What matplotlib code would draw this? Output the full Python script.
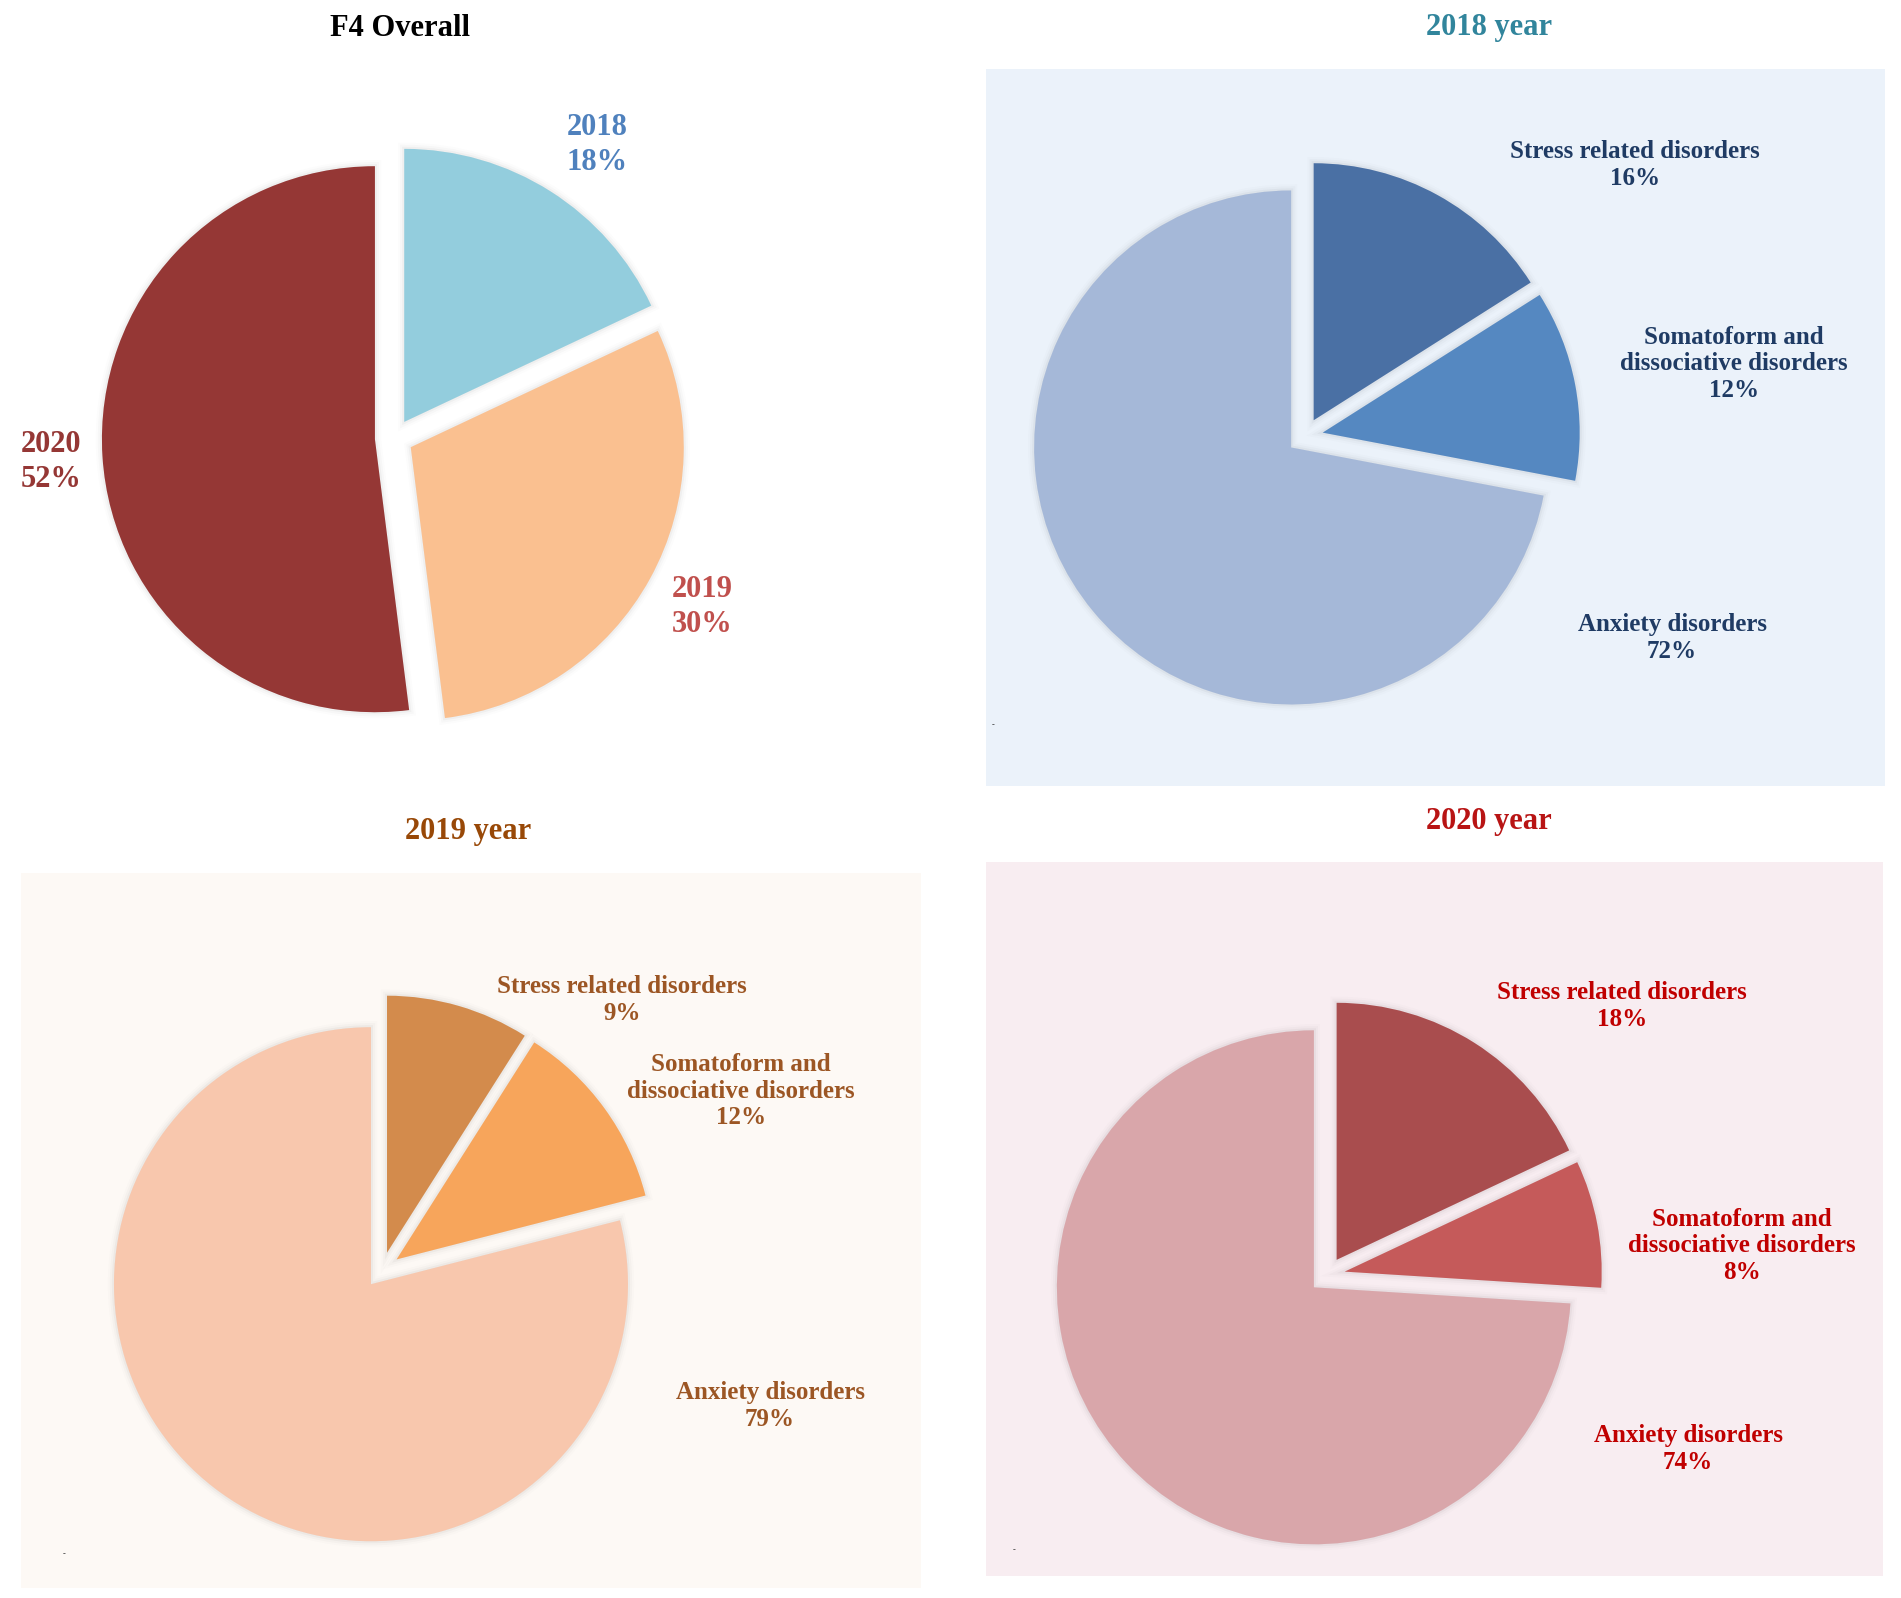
import matplotlib
matplotlib.use("Agg")
import matplotlib.pyplot as plt
import matplotlib.patheffects as pe
from matplotlib.patches import Rectangle

plt.rcParams["font.family"] = ["Liberation Serif", "DejaVu Serif"]
plt.rcParams["font.weight"] = "bold"

# data
years = ["2018", "2019", "2020"]
overall_share = [18, 30, 52]
disorders = ["Stress related disorders", "Somatoform and\ndissociative disorders", "Anxiety disorders"]
share_2018 = [16, 12, 72]
share_2019 = [9, 12, 79]
share_2020 = [18, 8, 74]

W, H = 1901, 1598
fig = plt.figure(figsize=(W / 100, H / 100), dpi=100)
fig.patch.set_facecolor("white")

# soft glow around the slices
glow = [
    pe.Stroke(linewidth=9, foreground="black", alpha=0.012),
    pe.Stroke(linewidth=6, foreground="black", alpha=0.018),
    pe.Stroke(linewidth=3, foreground="black", alpha=0.03),
    pe.Normal(),
]


def px_text(x, y, s, **kw):
    fig.text(x / W, 1 - y / H, s, ha="center", va="center", multialignment="center",
             fontweight="bold", **kw)


def panel(x0, y0, x1, y1, color):
    fig.patches.append(Rectangle((x0 / W, 1 - y1 / H), (x1 - x0) / W, (y1 - y0) / H,
                                 transform=fig.transFigure, facecolor=color,
                                 edgecolor="none", zorder=-1))


def pie_at(cx, cy, r, values, colors, explode=0.07):
    k = 1.3
    ax = fig.add_axes([(cx - k * r) / W, 1 - (cy + k * r) / H, 2 * k * r / W, 2 * k * r / H])
    wedges, _ = ax.pie(values, colors=colors, startangle=90, counterclock=False,
                       explode=[explode] * len(values), radius=1,
                       wedgeprops=dict(linewidth=0))
    for w in wedges:
        w.set_path_effects(glow)
    ax.set_xlim(-k, k)
    ax.set_ylim(-k, k)
    ax.set_aspect("equal")
    ax.axis("off")
    return ax


# panel backgrounds
panel(986, 69, 1885, 786, "#EBF2FA")
panel(21, 873, 921, 1588, "#FDF9F5")
panel(986, 862, 1883, 1576, "#F8EDF1")

# F4 overall
px_text(400, 29, "F4 Overall", fontsize=22, color="black")
pie_at(394, 438, 273, overall_share, ["#93CDDD", "#FAC090", "#953735"])
overall_pos = [(597, 145), (702, 607), (51, 462)]
overall_col = ["#4F81BD", "#C0504D", "#953735"]
for name, val, (x, y), c in zip(years, overall_share, overall_pos, overall_col):
    px_text(x, y, f"{name}\n{val}%", fontsize=22, color=c, linespacing=1.3)

# 2018
px_text(1489, 28, "2018 year", fontsize=22, color="#31859C")
pie_at(1305, 436, 257, share_2018, ["#4A70A4", "#5588C1", "#A5B8D8"])
pos_2018 = [(1635, 165), (1734, 364), (1672, 638)]
for name, val, (x, y) in zip(disorders, share_2018, pos_2018):
    px_text(x, y, f"{name}\n{val}%", fontsize=18, color="#1F3B64", linespacing=1.2)
px_text(993, 725, "-", fontsize=6, color="#333333")

# 2019
px_text(468, 832, "2019 year", fontsize=22, color="#984807")
pie_at(382, 1270, 257, share_2019, ["#D38B4C", "#F7A55B", "#F8C7AD"])
pos_2019 = [(622, 1000), (741, 1091), (770, 1406)]
for name, val, (x, y) in zip(disorders, share_2019, pos_2019):
    px_text(x, y, f"{name}\n{val}%", fontsize=18, color="#9C5624", linespacing=1.2)
px_text(64, 1554, "-", fontsize=6, color="#333333")

# 2020
px_text(1489, 822, "2020 year", fontsize=22, color="#B81414")
pie_at(1327, 1275, 257, share_2020, ["#A94D4E", "#C55A5A", "#D9A6AA"])
pos_2020 = [(1622, 1006), (1742, 1246), (1688, 1449)]
for name, val, (x, y) in zip(disorders, share_2020, pos_2020):
    px_text(x, y, f"{name}\n{val}%", fontsize=18, color="#C00000", linespacing=1.2)
px_text(1014, 1550, "-", fontsize=6, color="#333333")

fig.savefig("out.png", dpi=100, facecolor="white")
